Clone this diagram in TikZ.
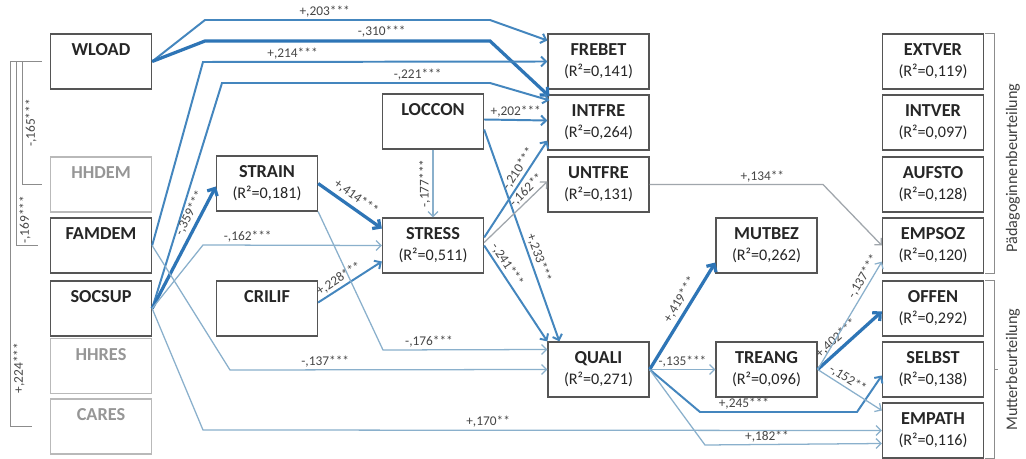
\documentclass[tikz,border=0pt]{standalone}
\usepackage{fontspec}
\setmainfont{Carlito}
\usetikzlibrary{calc,arrows.meta}

\definecolor{stronglink}{RGB}{46,117,182}
\definecolor{medlink}{RGB}{68,134,190}
\definecolor{weaklink}{RGB}{138,176,204}
\definecolor{graylink}{RGB}{160,166,172}
\definecolor{boxline}{RGB}{85,85,85}
\definecolor{boxfaint}{RGB}{185,185,185}
\definecolor{txtfaint}{RGB}{150,150,150}
\definecolor{coeftxt}{RGB}{70,70,70}

\newcommand{\vartxt}[2]{\textbf{#1}\\{\fontsize{11.5}{14}\selectfont #2}}
\newcommand{\noR}{\phantom{(R²=0,000)}}

\tikzset{   boxblack/.style={draw=boxline,fill=white,rectangle,line width=0.9pt,minimum width=2.525cm,minimum height=1.375cm,inner sep=0pt,align=center,font=\fontsize{13}{15}\selectfont,text=black!85},
            boxgray/.style={boxblack,draw=boxfaint,text=txtfaint},
            coef/.style={font=\fontsize{9.5}{11}\selectfont,text=coeftxt,inner sep=1.5pt},
            sidelbl/.style={font=\fontsize{11.5}{14}\selectfont,text=black!75},
            pathstrong/.style={draw=stronglink,line width=2.3pt,-{Straight Barb[length=4pt,width=8pt]}},
            pathmed/.style={draw=medlink,line width=1.4pt,-{Straight Barb[length=3.5pt,width=7pt]}},
            pathweak/.style={draw=weaklink,line width=0.9pt,-{Straight Barb[length=3.5pt,width=7pt]}},
            pathgray/.style={pathweak,draw=graylink},
            brack/.style={draw=black!45,line width=0.7pt},
}

\begin{document}
\begin{tikzpicture}[x=0.025cm,y=-0.025cm]
    \useasboundingbox[fill=white] (0,0) rectangle (1026,459);

    % exogenous variables
    \node[boxblack] (wload) at (101,61.5) {\vartxt{WLOAD}{\noR}};
    \node[boxgray] (hhdem) at (101,184.5) {\vartxt{HHDEM}{\noR}};
    \node[boxblack] (famdem) at (101,245.5) {\vartxt{FAMDEM}{\noR}};
    \node[boxblack] (socsup) at (101,308.5) {\vartxt{SOCSUP}{\noR}};
    \node[boxgray] (hhres) at (101,366) {\vartxt{HHRES}{\noR}};
    \node[boxgray] (cares) at (101,426.5) {\vartxt{CARES}{\noR}};

    \node[boxblack] (strain) at (267,183.5) {\vartxt{STRAIN}{(R²=0,181)}};
    \node[boxblack] (crilif) at (267,308.5) {\vartxt{CRILIF}{\noR}};
    \node[boxblack] (loccon) at (433,121.5) {\vartxt{LOCCON}{\noR}};
    \node[boxblack] (stress) at (433,245.5) {\vartxt{STRESS}{(R²=0,511)}};

    \node[boxblack] (frebet) at (598.5,61.5) {\vartxt{FREBET}{(R²=0,141)}};
    \node[boxblack] (intfre) at (598.5,122.5) {\vartxt{INTFRE}{(R²=0,264)}};
    \node[boxblack] (untfre) at (598.5,184.5) {\vartxt{UNTFRE}{(R²=0,131)}};
    \node[boxblack] (quali) at (598.5,369.5) {\vartxt{QUALI}{(R²=0,271)}};

    \node[boxblack] (mutbez) at (766.5,245.5) {\vartxt{MUTBEZ}{(R²=0,262)}};
    \node[boxblack] (treang) at (766.5,369.5) {\vartxt{TREANG}{(R²=0,096)}};

    % outcomes
    \node[boxblack] (extver) at (933,61.5) {\vartxt{EXTVER}{(R²=0,119)}};
    \node[boxblack] (intver) at (933,122.5) {\vartxt{INTVER}{(R²=0,097)}};
    \node[boxblack] (aufsto) at (933,184.5) {\vartxt{AUFSTO}{(R²=0,128)}};
    \node[boxblack] (empsoz) at (933,245.5) {\vartxt{EMPSOZ}{(R²=0,120)}};
    \node[boxblack] (offen) at (933,308.5) {\vartxt{OFFEN}{(R²=0,292)}};
    \node[boxblack] (selbst) at (933,369.5) {\vartxt{SELBST}{(R²=0,138)}};
    \node[boxblack] (empath) at (933,430.5) {\vartxt{EMPATH}{(R²=0,116)}};

    % correlations on the left
    \draw[brack] ($(wload.west)+(-8,0)$) -- ++(-19,0) |- node[coef,rotate=90,anchor=north,pos=.25]{-,165***} ($(hhdem.west)+(-8,0)$);
    \draw[brack] ($(wload.west)+(-8,0)$) -- ++(-25,0) |- node[coef,rotate=90,anchor=north,pos=.43]{-,169***} ($(famdem.west)+(-12,0)$);
    \draw[brack] ($(wload.west)+(-8,0)$) -- ++(-31,0) |- node[coef,rotate=90,anchor=north,pos=.42]{+,224***} ($(cares.west)+(-18,0)$);

    % groups on the right
    \draw[brack] ($(extver.north east)+(1,0)$) -- ++(9,0) |- node[sidelbl,rotate=90,anchor=north,pos=.28,inner sep=8pt]{Pädagoginnenbeurteilung} ($(empsoz.south east)+(1,0)$);
    \draw[brack] ($(offen.north east)+(1,0)$) -- ++(9,0) |- node[sidelbl,rotate=90,anchor=north,pos=.25,inner sep=8pt]{Mutterbeurteilung} ($(empath.south east)+(1,0)$);
    \draw[brack] ($(selbst.east)+(10,0)$) -- ++(4,0);

    % paths from the left block
    \draw[pathmed] (wload.east) -- (205,20) -- node[coef,above,pos=.42]{+,203***} (490,20) -- ($(frebet.west)+(0,-21)$);
    \draw[pathstrong] (wload.east) -- (205,41) -- node[coef,above,pos=.62]{-,310***} (490,41) -- ($(intfre.north west)+(2,2)$);
    \draw[pathmed] (famdem.east) -- (203,62) -- node[coef,above,pos=.26]{+,214***} (frebet.west);
    \draw[pathmed] (socsup.east) -- (222,83) -- node[coef,above,pos=.73]{-,221***} (490,83) -- ($(intfre.north west)+(2,6)$);
    \draw[pathstrong] (socsup.east) -- node[coef,above=1pt,sloped,pos=.74]{-,359***} ($(strain.west)+(0,3)$);
    \draw[pathweak] (socsup.east) -- (203,245) -- node[coef,above,pos=.25]{-,162***} (stress.west);
    \draw[pathweak] (famdem.east) -- (230,370) -- node[coef,above,pos=.3]{-,137***} (quali.west);
    \draw[pathweak] (socsup.east) -- (203,430) -- node[coef,above,pos=.42]{+,170**} (empath.west);

    % stress block
    \draw[pathstrong] (strain.east) -- node[coef,above=1pt,sloped]{+,414***} ($(stress.west)+(0,-17)$);
    \draw[pathmed] ($(crilif.east)+(0,-6)$) -- node[coef,above,sloped,pos=.4]{+,228***} ($(stress.west)+(0,16)$);
    \draw[pathweak] (loccon.south) -- node[coef,rotate=90,anchor=south]{-,177***} (stress.north);
    \draw[pathweak] (strain.south east) -- (383,350) -- node[coef,above,pos=.28]{-,176***} ($(quali.west)+(0,-20)$);
    \draw[pathmed] ($(loccon.east)+(0,-2)$) -- node[coef,above]{+,202***} ($(intfre.west)+(0,-2)$);
    \draw[pathmed] ($(loccon.east)+(0,8)$) -- node[coef,above,sloped,pos=.62]{+,233***} ($(quali.north west)+(12,0)$);
    \draw[pathmed] ($(stress.east)+(0,-8)$) -- node[coef,above,sloped,pos=.66]{-,210***} ($(intfre.south west)+(0,-10)$);
    \draw[pathgray] ($(stress.east)+(0,-3)$) -- node[coef,above,sloped,pos=.76]{-,162**} ($(untfre.west)+(0,-3)$);
    \draw[pathmed] (stress.east) -- node[coef,above,sloped,pos=.25]{-,241***} (quali.north west);

    % to the outcomes
    \draw[pathgray] (untfre.east) -- node[coef,above,pos=.65]{+,134**} (823,184.5) -- (empsoz.west);
    \draw[pathstrong] (quali.east) -- node[coef,above=1pt,sloped,pos=.6]{+,419***} ($(mutbez.west)+(0,17)$);
    \draw[pathweak] (quali.east) -- node[coef,above]{-,135***} (treang.west);
    \draw[pathmed] (quali.east) -- (700,412) -- node[coef,above,pos=.28]{+,245***} (857,412) -- ($(selbst.west)+(0,6)$);
    \draw[pathweak] (quali.east) -- (705,445) -- node[coef,above,pos=.35]{+,182**} ($(empath.west)+(0,13)$);
    \draw[pathstrong] (treang.east) -- node[coef,above=1pt,sloped,pos=.4]{+,402***} ($(offen.west)+(0,3)$);
    \draw[pathweak] (treang.east) -- node[coef,above,sloped,pos=.82]{-,137***} ($(empsoz.south west)+(0,-12)$);
    \draw[pathweak] (treang.east) -- node[coef,above,sloped,pos=.4]{-,152**} ($(empath.west)+(0,-20)$);
\end{tikzpicture}
\end{document}
